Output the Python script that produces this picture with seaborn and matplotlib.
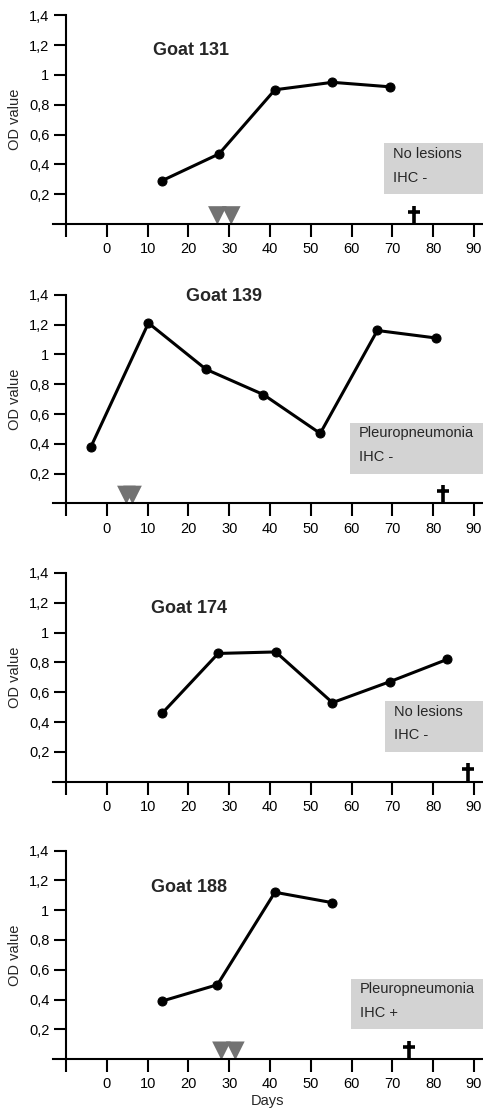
import numpy as np
import pandas as pd
import seaborn as sns
import matplotlib.pyplot as plt
from matplotlib.path import Path
from matplotlib.patches import Rectangle

#--------------------------------------------------------------------------------------------------------------------------
# Data
goats = ['Goat 131', 'Goat 139', 'Goat 174', 'Goat 188']

days_131 = [13.5, 27.5, 41.2, 55.3, 69.3]
od_131 = [0.29, 0.47, 0.90, 0.95, 0.92]

days_139 = [-3.9, 10.2, 24.3, 38.4, 52.3, 66.3, 80.6]
od_139 = [0.38, 1.21, 0.90, 0.73, 0.47, 1.16, 1.11]

days_174 = [13.6, 27.3, 41.4, 55.3, 69.3, 83.4]
od_174 = [0.46, 0.86, 0.87, 0.53, 0.67, 0.82]

days_188 = [13.5, 27.1, 41.2, 55.3]
od_188 = [0.39, 0.50, 1.12, 1.05]

all_days = [days_131, days_139, days_174, days_188]
all_od = [od_131, od_139, od_174, od_188]

inoculation_days = [[27.1, 30.5], [4.8, 6.3], [], [28.1, 31.5]]
death_days = [75.3, 82.5, 88.5, 74.0]
lesions = ['No lesions', 'Pleuropneumonia', 'No lesions', 'Pleuropneumonia']
ihc = ['IHC -', 'IHC -', 'IHC -', 'IHC +']

x_ticks = [-10, 0, 10, 20, 30, 40, 50, 60, 70, 80, 90]
x_labels = ['', '0', '10', '20', '30', '40', '50', '60', '70', '80', '90']
y_ticks = [0.2, 0.4, 0.6, 0.8, 1.0, 1.2, 1.4]
y_labels = ['0,2', '0,4', '0,6', '0,8', '1', '1,2', '1,4']

#--------------------------------------------------------------------------------------------------------------------------
# Layout / style (pixels of a 483x1113 figure)
title_pos = [(11.3, 1.16), (19.4, 1.39), (10.9, 1.16), (10.8, 1.155)]
box_left = [68.0, 59.5, 68.3, 59.8]
axes_bottom_px = [224, 503.5, 781.7, 1059.3]

sns.set_style('ticks')
plt.rcParams['font.family'] = ['Liberation Sans', 'DejaVu Sans']

W, H = 483, 1113
fig = plt.figure(figsize=(W / 100, H / 100), dpi=100)

dagger = Path([(0, -1), (0, 1), (-0.7, 0.35), (0.7, 0.35)],
              [Path.MOVETO, Path.LINETO, Path.MOVETO, Path.LINETO])

for i, goat in enumerate(goats):
    ax = fig.add_axes([53 / W, 1 - axes_bottom_px[i] / H, 430 / W, 208.8 / H])
    df = pd.DataFrame({'day': all_days[i], 'od': all_od[i]})

    # grey lesion box
    ax.add_patch(Rectangle((box_left[i], 0.2), 40, 0.34, facecolor='#d3d3d3', edgecolor='none', zorder=0))
    ax.text(box_left[i] + 2.2, 0.47, lesions[i], fontsize=10.5, va='center', ha='left')
    ax.text(box_left[i] + 2.2, 0.31, ihc[i], fontsize=10.5, va='center', ha='left')

    # OD curve
    sns.lineplot(data=df, x='day', y='od', ax=ax, color='black', linewidth=2.2,
                 marker='o', markersize=6.5, markeredgecolor='black', clip_on=False)

    # inoculations
    if inoculation_days[i]:
        sns.scatterplot(x=inoculation_days[i], y=[0.057] * len(inoculation_days[i]), ax=ax,
                        marker='v', s=180, color='#727272', edgecolor='none', clip_on=False)

    # death
    ax.plot(death_days[i], 0.062, marker=dagger, ms=13, mew=2.6, mfc='none', color='black', ls='')

    ax.text(title_pos[i][0], title_pos[i][1], goat, fontsize=13, fontweight='bold', va='center', ha='left')

    ax.set_xlim(-13.19, 92.2)
    ax.set_ylim(0, 1.4)
    ax.spines['top'].set_visible(False)
    ax.spines['right'].set_visible(False)
    ax.spines['left'].set_position(('data', -10))
    ax.spines['left'].set_linewidth(1.5)
    ax.spines['bottom'].set_linewidth(1.5)
    ax.spines['left'].set_color('black')
    ax.spines['bottom'].set_color('black')

    ax.set_xticks(x_ticks)
    ax.set_xticklabels(x_labels)
    ax.set_yticks(y_ticks)
    ax.set_yticklabels(y_labels)
    ax.tick_params(axis='both', direction='out', length=9, width=1.5, color='black',
                   labelsize=10.5, labelcolor='black', pad=3, bottom=True, left=True)
    ax.tick_params(axis='x', pad=4)

    ax.set_ylabel('OD value', fontsize=10.5, labelpad=5)
    if i == 3:
        ax.set_xlabel('Days', fontsize=10.5, labelpad=2)
    else:
        ax.set_xlabel('')

fig.savefig('out.png', dpi=100)
